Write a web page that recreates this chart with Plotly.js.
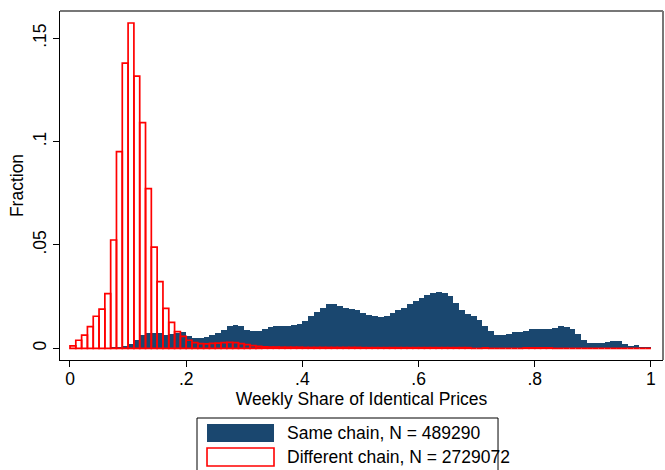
<!DOCTYPE html>
<html>
<head>
<meta charset="utf-8">
<script src="https://cdn.plot.ly/plotly-3.0.1.min.js"></script>
<style>
  html, body { margin: 0; padding: 0; background: #ffffff; }
  #chart { width: 665px; height: 470px; }
</style>
</head>
<body>
<div id="chart"></div>
<script>
// Bin width of the histograms (Weekly Share of Identical Prices)
const binWidth = 0.01;

// Same chain, N = 489290 — fraction per bin, bins [0,.01), [.01,.02), ... [.99,1]
const sameChain = [
  0, 0, 0, 0.0001, 0.0002, 0.0002, 0.0003, 0.0004, 0.0006, 0.0011,
  0.0022, 0.0040, 0.0062, 0.0072, 0.0074, 0.0072, 0.0066, 0.0068, 0.0075, 0.0077,
  0.0058, 0.0049, 0.0050, 0.0057, 0.0066, 0.0075, 0.0090, 0.0106, 0.0113, 0.0107,
  0.0088, 0.0082, 0.0086, 0.0092, 0.0101, 0.0109, 0.0110, 0.0109, 0.0114, 0.0120,
  0.0134, 0.0155, 0.0175, 0.0196, 0.0212, 0.0213, 0.0207, 0.0194, 0.0188, 0.0183,
  0.0172, 0.0162, 0.0154, 0.0151, 0.0158, 0.0171, 0.0185, 0.0197, 0.0212, 0.0228,
  0.0245, 0.0258, 0.0267, 0.0274, 0.0270, 0.0255, 0.0220, 0.0185, 0.0166, 0.0155,
  0.0135, 0.0108, 0.0082, 0.0064, 0.0062, 0.0070, 0.0078, 0.0080, 0.0085, 0.0094,
  0.0095, 0.0092, 0.0091, 0.0097, 0.0108, 0.0104, 0.0092, 0.0068, 0.0040, 0.0024,
  0.0024, 0.0025, 0.0029, 0.0033, 0.0034, 0.0019, 0.0011, 0.0016, 0.0008, 0.0008
];

// Different chain, N = 2729072 — fraction per bin
const differentChain = [
  0.0012, 0.0039, 0.0064, 0.0105, 0.0155, 0.0190, 0.0265, 0.0524, 0.0952, 0.1380,
  0.1574, 0.1317, 0.1092, 0.0773, 0.0490, 0.0323, 0.0193, 0.0125, 0.0081, 0.0058,
  0.0039, 0.0027, 0.0023, 0.0021, 0.0024, 0.0025, 0.0027, 0.0029, 0.0027, 0.0023,
  0.0018, 0.0013, 0.0009, 0.0007, 0.0006, 0.0006, 0.0005, 0.0005, 0.0005, 0.0005,
  0.0004, 0.0004, 0.0004, 0.0004, 0.0004, 0.0004, 0.0004, 0.0004, 0.0004, 0.0004,
  0.0003, 0.0003, 0.0003, 0.0003, 0.0003, 0.0003, 0.0003, 0.0003, 0.0003, 0.0003,
  0.0003, 0.0003, 0.0003, 0.0003, 0.0003, 0.0003, 0.0003, 0.0003, 0.0003, 0,
  0, 0.0002, 0, 0, 0, 0, 0, 0, 0.0002, 0.0002,
  0.0002, 0.0002, 0.0002, 0, 0, 0, 0, 0, 0, 0,
  0, 0, 0, 0, 0, 0, 0, 0, 0, 0
];

const xTickVals = [0, 0.2, 0.4, 0.6, 0.8, 1];
const xTickText = ['0', '.2', '.4', '.6', '.8', '1'];
const yTickVals = [0, 0.05, 0.1, 0.15];
const yTickText = ['0', '.05', '.1', '.15'];

const legendLabels = ['Same chain, N = 489290', 'Different chain, N = 2729072'];

const navy = '#1a476f';
const red = '#ff0000';

function binCenters(n) {
  const c = [];
  for (let i = 0; i < n; i++) c.push(i * binWidth + binWidth / 2);
  return c;
}

const traces = [
  {
    type: 'bar',
    name: legendLabels[0],
    x: binCenters(sameChain.length),
    y: sameChain,
    width: binWidth,
    marker: { color: navy, line: { width: 0 } },
    hoverinfo: 'x+y'
  },
  {
    type: 'bar',
    name: legendLabels[1],
    x: binCenters(differentChain.length),
    y: differentChain,
    width: binWidth,
    marker: { color: 'rgba(255,255,255,0)', line: { color: red, width: 1.7 } },
    hoverinfo: 'x+y'
  }
];

const fontFamily = 'Liberation Sans, Arial, sans-serif';
const fs = 17.5;

const layout = {
  width: 665,
  height: 470,
  margin: { l: 60, r: 2, t: 11, b: 110, pad: 0 },
  paper_bgcolor: '#ffffff',
  plot_bgcolor: '#ffffff',
  barmode: 'overlay',
  bargap: 0,
  showlegend: false,
  font: { family: fontFamily, size: fs, color: '#000000' },
  xaxis: {
    range: [-0.0172, 1.0207],
    tickvals: xTickVals,
    ticktext: xTickText,
    ticks: 'outside',
    ticklen: 6,
    tickwidth: 1,
    tickcolor: '#000000',
    ticklabelstandoff: -3,
    showgrid: false,
    zeroline: false,
    showline: true,
    linecolor: '#000000',
    linewidth: 1,
    mirror: false,
    tickfont: { size: fs, family: fontFamily },
    title: { text: 'Weekly Share of Identical Prices', font: { size: fs, family: fontFamily }, standoff: 0 }
  },
  yaxis: {
    range: [-0.00566, 0.1632],
    tickvals: yTickVals,
    ticktext: yTickText,
    tickangle: -90,
    ticks: 'outside',
    ticklen: 6,
    tickwidth: 1,
    tickcolor: '#000000',
    showgrid: false,
    zeroline: false,
    showline: true,
    linecolor: '#000000',
    linewidth: 1,
    tickfont: { size: fs, family: fontFamily },
    title: { text: 'Fraction', font: { size: fs, family: fontFamily }, standoff: 1 }
  },
  shapes: [
    // plot region outline (top and right), as in the original
    { type: 'line', xref: 'paper', yref: 'paper', x0: 0, x1: 1, y0: 1, y1: 1, line: { color: '#777777', width: 2 } },
    { type: 'line', xref: 'paper', yref: 'paper', x0: 1, x1: 1, y0: 0, y1: 1, line: { color: '#777777', width: 2 } },
    // legend box
    { type: 'rect', xref: 'paper', yref: 'paper', x0: 0.2272, x1: 0.7264, y0: -0.1662, y1: -0.33, line: { color: '#000000', width: 1 }, fillcolor: 'rgba(0,0,0,0)' },
    // legend keys
    { type: 'rect', xref: 'paper', yref: 'paper', x0: 0.2438, x1: 0.3549, y0: -0.1834, y1: -0.2350, line: { width: 0 }, fillcolor: navy },
    { type: 'rect', xref: 'paper', yref: 'paper', x0: 0.2438, x1: 0.3549, y0: -0.2521, y1: -0.3037, line: { color: red, width: 1.6 }, fillcolor: '#ffffff' }
  ],
  annotations: [
    { xref: 'paper', yref: 'paper', x: 0.3731, y: -0.2092, xanchor: 'left', yanchor: 'middle', showarrow: false, text: legendLabels[0], font: { size: fs, family: fontFamily, color: '#000000' } },
    { xref: 'paper', yref: 'paper', x: 0.3731, y: -0.2779, xanchor: 'left', yanchor: 'middle', showarrow: false, text: legendLabels[1], font: { size: fs, family: fontFamily, color: '#000000' } }
  ]
};

Plotly.newPlot('chart', traces, layout, { displayModeBar: false, staticPlot: true });
</script>
</body>
</html>
